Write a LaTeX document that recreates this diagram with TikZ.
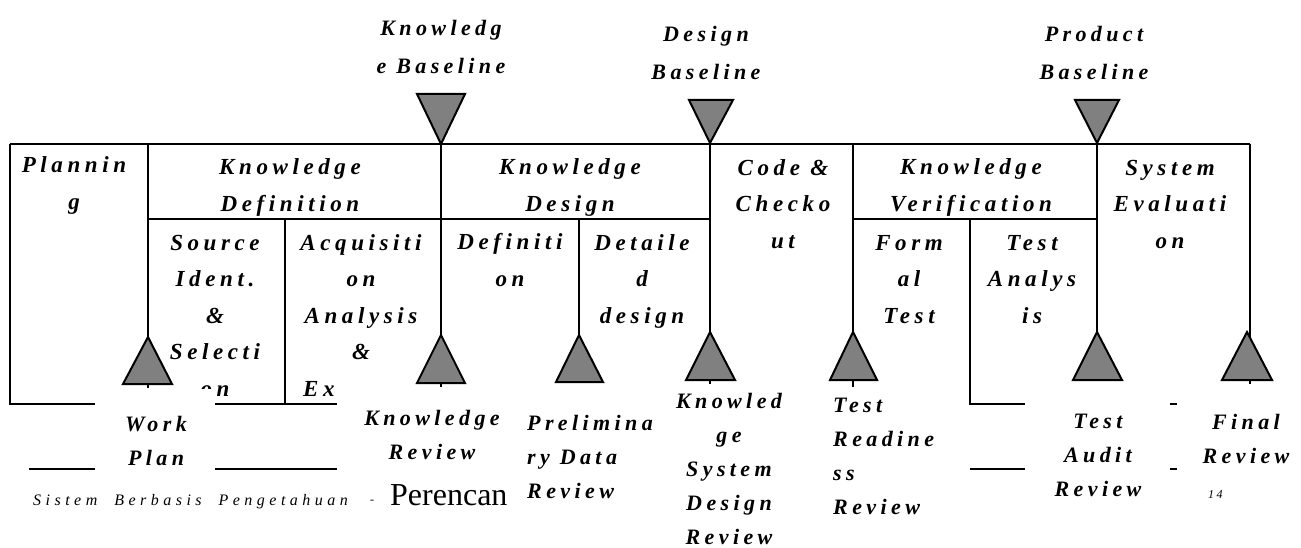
\documentclass[tikz,border=0pt]{standalone}
\usepackage{fontspec}
\setmainfont{Liberation Serif}
\newfontfamily\scrfam[LetterSpace=20]{Liberation Serif}
\newfontfamily\footfam[LetterSpace=28]{Liberation Serif}
\definecolor{triGrey}{RGB}{128,128,128}
\begin{document}
\begin{tikzpicture}[x=1pt,y=-1pt,
  ln/.style={line width=2pt},
  tri/.style={fill=triGrey,draw=black,line width=2pt,line join=miter},
  boxtxt/.style={font=\scrfam\bfseries\itshape\fontsize{23}{36.5}\selectfont,align=center,anchor=base,inner sep=0pt},
  lowtxt/.style={font=\scrfam\bfseries\itshape\fontsize{22}{34}\selectfont,align=center,anchor=base,inner sep=0pt},
  toptxt/.style={font=\scrfam\bfseries\itshape\fontsize{22}{38}\selectfont,align=center,anchor=base,inner sep=0pt},
  mask/.style={fill=white,draw=none}]
\useasboundingbox (0,0) rectangle (1301,548);
% frame lines
\draw[ln] (10,144) -- (1250,144);
\draw[ln] (10,144) -- (10,404) -- (337,404);
\draw[ln] (29,469) -- (337,469);
\draw[ln] (148,144) -- (148,388);
\draw[ln] (148,219) -- (710,219);
\draw[ln] (285,219) -- (285,404);
\draw[ln] (441,144) -- (441,387);
\draw[ln] (579,219) -- (579,380);
\draw[ln] (710,144) -- (710,384);
\draw[ln] (853,144) -- (853,387);
\draw[ln] (853,219) -- (1097,219);
\draw[ln] (970,219) -- (970,404) -- (1177,404);
\draw[ln] (970,469) -- (1177,469);
\draw[ln] (1097,144) -- (1097,380);
\draw[ln] (1250,144) -- (1250,384);
% column texts (anchor = baseline of last line)
\node[boxtxt] (plan) at (74,209.5) {Plannin\\g};
\node[boxtxt] (kdef) at (290,211.5) {Knowledge\\Definition};
\node[boxtxt] (kdes) at (570,211.5) {Knowledge\\Design};
\node[boxtxt] (code) at (783,248) {Code \&\\Checko\\ut};
\node[boxtxt] (kver) at (971,211.5) {Knowledge\\Verification};
\node[boxtxt] (seval) at (1170,248) {System\\Evaluati\\on};
\node[boxtxt] (src) at (215,396) {Source\\Ident.\\\&\\Selecti\\on};
\node[boxtxt] (acq) at (361,359.5) {Acquisiti\\on\\Analysis\\\&};
\node[boxtxt,anchor=base west] (acqex) at (303,396) {Ex};
\node[boxtxt] (defi) at (510,286.5) {Definiti\\on};
\node[boxtxt] (detd) at (642,323) {Detaile\\d\\design};
\node[boxtxt] (form) at (909,323) {Form\\al\\Test};
\node[boxtxt] (tana) at (1032,323) {Test\\Analys\\is};
% masks (overlapping label boxes)
\fill[mask] (95,389) rectangle (215,480);
\fill[mask] (1025,388) rectangle (1170,500);
\fill[mask] (1177,385) rectangle (1301,520);
% milestone triangles
\filldraw[tri] (417,94) -- (465,94) -- (441,144) -- cycle;
\filldraw[tri] (689,100) -- (733,100) -- (710,143) -- cycle;
\filldraw[tri] (1075,100) -- (1119,100) -- (1097,143) -- cycle;
\filldraw[tri] (123,384) -- (148,337) -- (172,384) -- cycle;
\filldraw[tri] (417,383) -- (441,335) -- (465,383) -- cycle;
\filldraw[tri] (556,382) -- (579,335) -- (603,382) -- cycle;
\filldraw[tri] (686,380) -- (710,332) -- (735,380) -- cycle;
\filldraw[tri] (830,380) -- (853,332) -- (877,380) -- cycle;
\filldraw[tri] (1073,380) -- (1097,332) -- (1122,380) -- cycle;
\filldraw[tri] (1222,380) -- (1247,332) -- (1272,380) -- cycle;
% baseline labels
\node[toptxt] (kbl) at (441,74) {Knowledg\\e Baseline};
\node[toptxt] (dbl) at (706,80) {Design\\Baseline};
\node[toptxt] (pbl) at (1094,80) {Product\\Baseline};
% review labels
\node[lowtxt] (wp) at (156,465) {Work\\Plan};
\node[lowtxt] (kr) at (432,459) {Knowledge\\Review};
\node[lowtxt,align=left,anchor=base west] (pdr) at (527,498) {Prelimina\\ry Data\\Review};
\node[lowtxt] (ksdr) at (729,544) {Knowled\\ge\\System\\Design\\Review};
\node[lowtxt,align=left,anchor=base west] (trr) at (833,514) {Test\\Readine\\ss\\Review};
\node[lowtxt] (tar) at (1098,496) {Test\\Audit\\Review};
\node[lowtxt] (fr) at (1246,463) {Final\\Review};
\node[inner sep=0pt,anchor=base west,font=\scrfam\itshape\fontsize{12}{14}\selectfont] (pg) at (1208,498) {14};
% footer
\node[inner sep=0pt,anchor=base west,font=\footfam\itshape\fontsize{16}{19}\selectfont] (foot) at (33,505) {Sistem\ \ Berbasis\ \ Pengetahuan};
\node[inner sep=0pt,anchor=base,font=\fontsize{12}{14}\selectfont] (dash) at (372,503) {-};
\node[inner sep=0pt,anchor=base west,font=\fontsize{32}{36}\selectfont] (per) at (390,505) {Perencan};
\end{tikzpicture}
\end{document}
